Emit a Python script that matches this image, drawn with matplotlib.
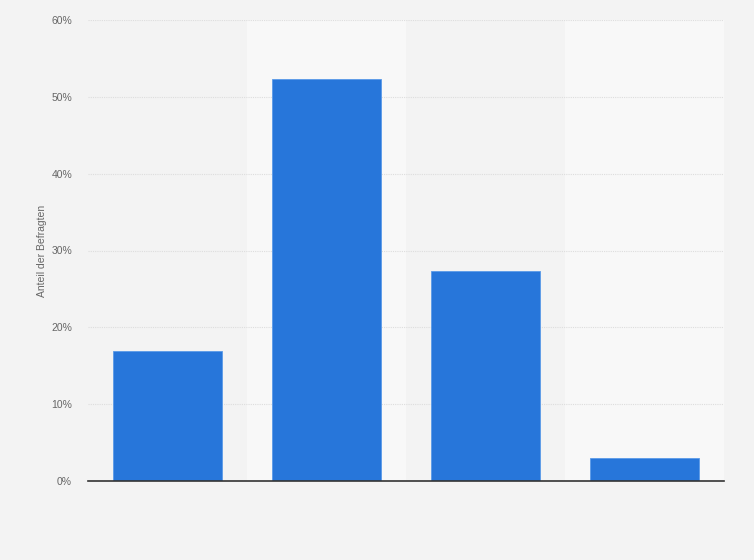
import numpy as np
import matplotlib.pyplot as plt
from matplotlib.ticker import FuncFormatter

plt.rcParams['font.family'] = ['Liberation Sans', 'DejaVu Sans']

# Werte (Anteil der Befragten in %)
categories = ['A', 'B', 'C', 'D']
values = [16.9, 52.3, 27.3, 3.0]
yticks = [0, 10, 20, 30, 40, 50, 60]

fig = plt.figure(figsize=(7.54, 5.6), dpi=100)
fig.patch.set_facecolor('#f3f3f3')
ax = fig.add_axes([88/754, 79/560, 636/754, 461/560])
ax.set_facecolor('#f3f3f3')

x = np.arange(len(categories))
# alternierende Hintergrundspalten
for i in x:
    if i % 2 == 1:
        ax.axvspan(i - 0.5, i + 0.5, color='#f8f8f8', zorder=0, lw=0)

ax.bar(x, values, width=0.685, color='#2776da', edgecolor='#5a9ae8', linewidth=0.6, zorder=3)

ax.set_xlim(-0.5, len(categories) - 0.5)
ax.set_ylim(0, 60)
ax.set_yticks(yticks)
ax.yaxis.set_major_formatter(FuncFormatter(lambda v, p: f'{v:.0f}%'))
ax.set_xticks([])
ax.tick_params(axis='y', length=0, pad=11.5, labelsize=7.5, labelcolor='#666666')
ax.grid(axis='y', color='#dddddd', linestyle=(0, (1, 1)), linewidth=0.8, zorder=1)

for s in ['top', 'right', 'left']:
    ax.spines[s].set_visible(False)
ax.spines['bottom'].set_color('#333333')
ax.spines['bottom'].set_linewidth(1.2)
ax.spines['bottom'].set_zorder(4)

ax.set_ylabel('Anteil der Befragten', fontsize=7.5, color='#666666')
ax.yaxis.set_label_coords(-41/636, 0.5)

fig.savefig('out.png', dpi=100, facecolor=fig.get_facecolor())
